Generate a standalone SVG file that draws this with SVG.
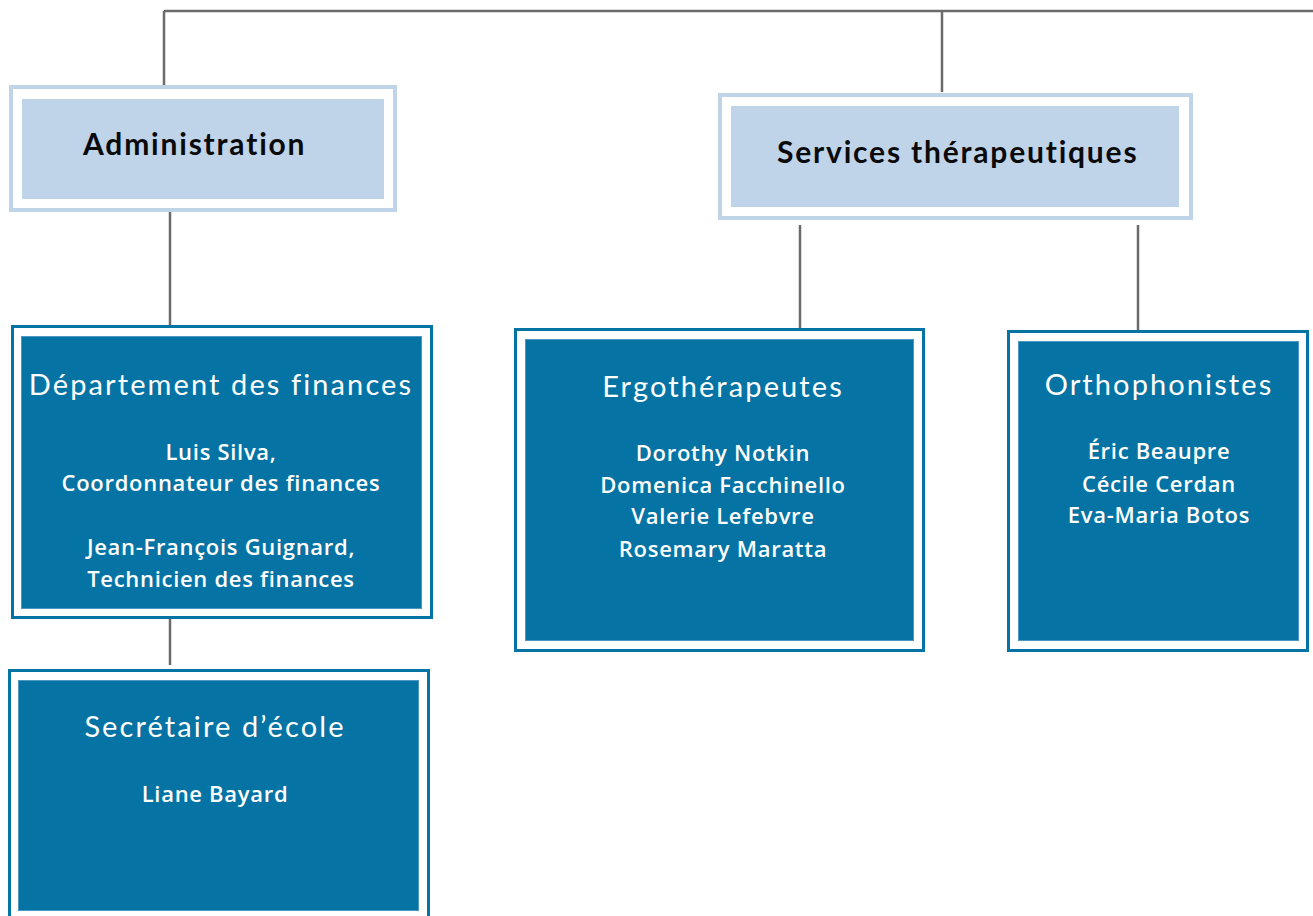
<svg xmlns="http://www.w3.org/2000/svg" width="1313" height="916" viewBox="0 0 1313 916">
<style>
.outerL{fill:#ffffff;stroke:#bfd4e9;stroke-width:4}
.innerL{fill:#bfd4e9}
.outerD{fill:#ffffff;stroke:#0573a3;stroke-width:3}
.innerD{fill:#0573a3;stroke:#4c98c2;stroke-width:1}
.hL{font-family:Lato,"Liberation Sans",sans-serif;font-weight:700;font-size:30px;fill:#0a0a0a;letter-spacing:1.8px}
.hD{font-family:Lato,"Liberation Sans",sans-serif;font-weight:400;font-size:29px;fill:#ffffff;text-anchor:middle;letter-spacing:2.1px}
.b{font-family:"Open Sans","Liberation Sans",sans-serif;font-weight:600;font-size:22px;fill:#ffffff;text-anchor:middle;letter-spacing:0.7px}
.c{fill:none;stroke:#6b6b6b;stroke-width:2.5}
</style>
<g id="connectors">
<path class="c" d="M164 11 H1313 M164 11 V90 M942 11 V92"/>
<path class="c" d="M170 212 V331"/>
<path class="c" d="M800 225 V329 M1138 225 V331"/>
<path class="c" d="M170 619 V665"/>
</g>
<g id="administration">
<rect class="outerL" x="11" y="87" width="384" height="123"/>
<rect class="innerL" x="22" y="99" width="362" height="100"/>
<text class="hL" x="83" y="155">Administration</text>
</g>
<g id="services">
<rect class="outerL" x="720" y="95" width="471" height="123"/>
<rect class="innerL" x="731" y="106" width="448" height="101"/>
<text class="hL" x="777" y="163">Services thérapeutiques</text>
</g>
<g id="finances">
<rect class="outerD" x="12.5" y="326.5" width="419" height="291"/>
<rect class="innerD" x="21.5" y="336.5" width="400" height="272"/>
<text class="hD" x="221" y="395">Département des finances</text>
<text class="b" x="221" y="460">Luis Silva,</text>
<text class="b" x="221" y="491">Coordonnateur des finances</text>
<text class="b" x="221" y="555">Jean-François Guignard,</text>
<text class="b" x="221" y="587">Technicien des finances</text>
</g>
<g id="ergotherapeutes">
<rect class="outerD" x="515.5" y="329.5" width="408" height="321"/>
<rect class="innerD" x="525.5" y="339.5" width="388" height="301"/>
<text class="hD" x="723" y="397">Ergothérapeutes</text>
<text class="b" x="723" y="461">Dorothy Notkin</text>
<text class="b" x="723" y="493">Domenica Facchinello</text>
<text class="b" x="723" y="524">Valerie Lefebvre</text>
<text class="b" x="723" y="557">Rosemary Maratta</text>
</g>
<g id="orthophonistes">
<rect class="outerD" x="1008.5" y="331.5" width="299" height="319"/>
<rect class="innerD" x="1018.5" y="341.5" width="280" height="299"/>
<text class="hD" x="1159" y="395">Orthophonistes</text>
<text class="b" x="1159" y="459">Éric Beaupre</text>
<text class="b" x="1159" y="492">Cécile Cerdan</text>
<text class="b" x="1159" y="523">Eva-Maria Botos</text>
</g>
<g id="secretaire">
<rect class="outerD" x="9.5" y="670.5" width="419" height="260"/>
<rect class="innerD" x="18.5" y="680.5" width="400" height="230"/>
<text class="hD" x="215" y="737">Secrétaire d’école</text>
<text class="b" x="215" y="802">Liane Bayard</text>
</g>
</svg>
